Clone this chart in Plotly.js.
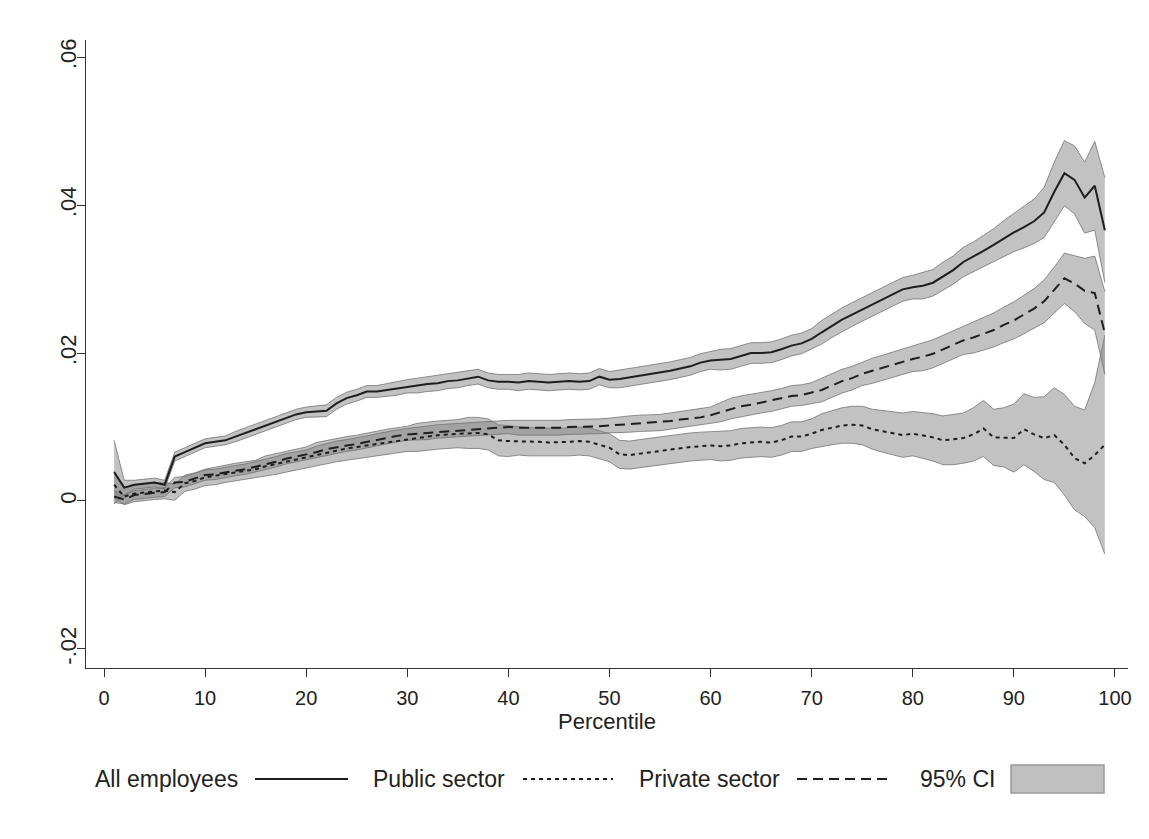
<!DOCTYPE html>
<html>
<head>
<meta charset="utf-8">
<script src="https://cdn.plot.ly/plotly-3.0.1.min.js"></script>
<style>html,body{margin:0;padding:0;background:#fff;}#chart{width:1149px;height:839px;}</style>
</head>
<body>
<div id="chart"></div>
<script>
// Percentile positions
const percentiles = [1,2,3,4,5,6,7,8,9,10,11,12,13,14,15,16,17,18,19,20,21,22,23,24,25,26,27,28,29,30,31,32,33,34,35,36,37,38,39,40,41,42,43,44,45,46,47,48,49,50,51,52,53,54,55,56,57,58,59,60,61,62,63,64,65,66,67,68,69,70,71,72,73,74,75,76,77,78,79,80,81,82,83,84,85,86,87,88,89,90,91,92,93,94,95,96,97,98,99];

// All employees (solid) point estimates
const allEmployees = [0.0039,0.0018,0.0022,0.0024,0.0025,0.0022,0.0060,0.0066,0.0072,0.0078,
0.0080,0.0082,0.0087,0.0092,0.0096,0.0102,0.0106,0.0112,0.0117,0.0120,
0.0121,0.0122,0.0132,0.0139,0.0143,0.0148,0.0148,0.0150,0.0152,0.0155,
0.0156,0.0158,0.0159,0.0162,0.0163,0.0166,0.0168,0.0163,0.0161,0.0161,
0.0160,0.0162,0.0161,0.0160,0.0161,0.0162,0.0161,0.0162,0.0168,0.0164,
0.0165,0.0167,0.0169,0.0171,0.0173,0.0176,0.0179,0.0182,0.0187,0.0190,
0.0191,0.0192,0.0196,0.0200,0.0200,0.0201,0.0205,0.0210,0.0213,0.0219,
0.0228,0.0237,0.0245,0.0252,0.0259,0.0266,0.0273,0.0280,0.0286,0.0289,
0.0291,0.0295,0.0304,0.0312,0.0323,0.0330,0.0338,0.0346,0.0355,0.0363,
0.0370,0.0378,0.0390,0.0418,0.0443,0.0434,0.0410,0.0426,0.0366];
// 95% CI half-widths, all employees
const allHalfWidth = [0.0043,0.0010,0.0006,0.0006,0.0006,0.0006,0.0006,0.0006,0.0006,0.0006,
0.0006,0.0006,0.0007,0.0007,0.0007,0.0007,0.0007,0.0007,0.0007,0.0007,
0.0008,0.0008,0.0008,0.0008,0.0008,0.0008,0.0008,0.0009,0.0009,0.0009,
0.0010,0.0010,0.0010,0.0010,0.0010,0.0010,0.0010,0.0010,0.0010,0.0010,
0.0011,0.0011,0.0011,0.0011,0.0011,0.0011,0.0011,0.0011,0.0011,0.0011,
0.0012,0.0012,0.0012,0.0012,0.0012,0.0012,0.0012,0.0012,0.0012,0.0012,
0.0014,0.0014,0.0014,0.0014,0.0014,0.0014,0.0014,0.0014,0.0014,0.0014,
0.0016,0.0016,0.0016,0.0016,0.0016,0.0016,0.0016,0.0016,0.0016,0.0016,
0.0018,0.0018,0.0019,0.0019,0.0020,0.0020,0.0021,0.0022,0.0024,0.0026,
0.0028,0.0030,0.0034,0.0040,0.0044,0.0046,0.0048,0.0060,0.0071];

// Public sector (dotted) point estimates
const publicSector = [0.0022,0.0006,0.0010,0.0012,0.0013,0.0014,0.0012,0.0024,0.0027,0.0032,
0.0034,0.0037,0.0039,0.0041,0.0043,0.0047,0.0050,0.0053,0.0056,0.0059,
0.0063,0.0066,0.0069,0.0071,0.0073,0.0075,0.0078,0.0080,0.0082,0.0084,
0.0086,0.0088,0.0089,0.0090,0.0091,0.0092,0.0092,0.0090,0.0082,0.0081,
0.0081,0.0080,0.0080,0.0079,0.0079,0.0080,0.0081,0.0080,0.0076,0.0072,
0.0063,0.0062,0.0064,0.0066,0.0068,0.0070,0.0072,0.0073,0.0074,0.0075,
0.0074,0.0075,0.0078,0.0079,0.0080,0.0079,0.0082,0.0087,0.0087,0.0091,
0.0096,0.0099,0.0102,0.0103,0.0102,0.0097,0.0094,0.0091,0.0089,0.0091,
0.0089,0.0086,0.0082,0.0083,0.0085,0.0090,0.0098,0.0086,0.0086,0.0085,
0.0097,0.0090,0.0085,0.0089,0.0076,0.0058,0.0051,0.0062,0.0076];
const publicHalfWidth = [0.0018,0.0011,0.0011,0.0011,0.0011,0.0011,0.0011,0.0011,0.0011,0.0011,
0.0012,0.0012,0.0012,0.0012,0.0012,0.0014,0.0014,0.0014,0.0014,0.0014,
0.0016,0.0016,0.0016,0.0016,0.0016,0.0017,0.0017,0.0017,0.0017,0.0017,
0.0019,0.0019,0.0019,0.0019,0.0019,0.0021,0.0021,0.0021,0.0021,0.0021,
0.0019,0.0019,0.0019,0.0019,0.0019,0.0019,0.0019,0.0019,0.0019,0.0019,
0.0019,0.0019,0.0019,0.0019,0.0019,0.0019,0.0019,0.0019,0.0019,0.0019,
0.0020,0.0020,0.0020,0.0020,0.0020,0.0020,0.0020,0.0020,0.0020,0.0020,
0.0022,0.0023,0.0024,0.0025,0.0026,0.0027,0.0028,0.0029,0.0030,0.0030,
0.0031,0.0032,0.0033,0.0034,0.0034,0.0036,0.0038,0.0038,0.0040,0.0046,
0.0048,0.0050,0.0056,0.0064,0.0068,0.0070,0.0072,0.0098,0.0148];

// Private sector (dashed) point estimates
const privateSector = [0.0006,0.0002,0.0008,0.0010,0.0011,0.0012,0.0025,0.0026,0.0030,0.0035,
0.0036,0.0039,0.0041,0.0043,0.0046,0.0050,0.0053,0.0057,0.0060,0.0062,
0.0066,0.0070,0.0073,0.0075,0.0077,0.0080,0.0083,0.0086,0.0088,0.0090,
0.0091,0.0092,0.0094,0.0095,0.0096,0.0097,0.0098,0.0099,0.0100,0.0100,
0.0099,0.0099,0.0098,0.0098,0.0099,0.0100,0.0100,0.0100,0.0101,0.0102,
0.0103,0.0104,0.0105,0.0105,0.0106,0.0108,0.0110,0.0111,0.0113,0.0116,
0.0120,0.0125,0.0128,0.0130,0.0133,0.0135,0.0138,0.0142,0.0143,0.0146,
0.0150,0.0156,0.0162,0.0166,0.0172,0.0176,0.0180,0.0184,0.0189,0.0192,
0.0195,0.0199,0.0205,0.0211,0.0217,0.0221,0.0226,0.0231,0.0238,0.0244,
0.0252,0.0260,0.0270,0.0285,0.0301,0.0294,0.0284,0.0281,0.0227];
const privateHalfWidth = [0.0008,0.0006,0.0006,0.0006,0.0006,0.0006,0.0007,0.0007,0.0007,0.0007,
0.0007,0.0007,0.0007,0.0007,0.0007,0.0007,0.0007,0.0007,0.0007,0.0007,
0.0008,0.0008,0.0008,0.0008,0.0008,0.0008,0.0008,0.0008,0.0008,0.0008,
0.0009,0.0009,0.0009,0.0009,0.0009,0.0009,0.0009,0.0009,0.0009,0.0009,
0.0010,0.0010,0.0010,0.0010,0.0010,0.0010,0.0010,0.0010,0.0010,0.0010,
0.0011,0.0011,0.0011,0.0011,0.0011,0.0011,0.0011,0.0011,0.0011,0.0011,
0.0013,0.0014,0.0014,0.0014,0.0014,0.0014,0.0014,0.0014,0.0014,0.0014,
0.0016,0.0016,0.0016,0.0016,0.0016,0.0017,0.0017,0.0017,0.0017,0.0017,
0.0019,0.0019,0.0019,0.0019,0.0019,0.0021,0.0022,0.0023,0.0024,0.0025,
0.0026,0.0027,0.0029,0.0031,0.0034,0.0038,0.0044,0.0050,0.0056];

// Axis ticks
const xTickValues = [0,10,20,30,40,50,60,70,80,90,100];
const yTickValues = [-0.02,0,0.02,0.04,0.06];
const yTickLabels = ['-.02','0','.02','.04','.06'];

// Legend labels
const legendLabels = ['All employees','Public sector','Private sector','95% CI'];

const FONT = 'Liberation Sans, Arial, sans-serif';
const BAND_FILL = 'rgba(128,128,128,0.48)';
const BAND_EDGE = 'rgba(110,110,110,0.75)';
const LINE_COL = '#1e1e1e';

function bandTraces(mean, hw) {
  const lo = mean.map((v, i) => v - hw[i]);
  const hi = mean.map((v, i) => v + hw[i]);
  return [
    {x: percentiles, y: lo, type: 'scatter', mode: 'lines', line: {color: BAND_EDGE, width: 1}, hoverinfo: 'skip', showlegend: false},
    {x: percentiles, y: hi, type: 'scatter', mode: 'lines', fill: 'tonexty', fillcolor: BAND_FILL, line: {color: BAND_EDGE, width: 1}, hoverinfo: 'skip', showlegend: false}
  ];
}

const traces = [].concat(
  bandTraces(publicSector, publicHalfWidth),
  bandTraces(privateSector, privateHalfWidth),
  bandTraces(allEmployees, allHalfWidth),
  [
    {x: percentiles, y: publicSector, type: 'scatter', mode: 'lines', name: legendLabels[1], line: {color: LINE_COL, width: 2, dash: '4px,4px'}, showlegend: false},
    {x: percentiles, y: privateSector, type: 'scatter', mode: 'lines', name: legendLabels[2], line: {color: LINE_COL, width: 2, dash: '10px,6px'}, showlegend: false},
    {x: percentiles, y: allEmployees, type: 'scatter', mode: 'lines', name: legendLabels[0], line: {color: LINE_COL, width: 2}, showlegend: false}
  ]
);

// plot area in pixels
const L = 86, R = 1128, T = 40, B = 668;
const W = R - L, H = B - T;
const px = x => (x - L) / W;
const py = y => (B - y) / H;
const legendY = 779;

const annotations = [
  {text: legendLabels[0], x: px(93), xanchor: 'left'},
  {text: legendLabels[1], x: px(371), xanchor: 'left'},
  {text: legendLabels[2], x: px(637), xanchor: 'left'},
  {text: legendLabels[3], x: px(918), xanchor: 'left'}
].map(a => Object.assign({xref: 'paper', yref: 'paper', y: py(legendY), yanchor: 'middle', showarrow: false, font: {family: FONT, size: 23, color: '#222'}}, a));

const shapes = [
  {type: 'line', xref: 'paper', yref: 'paper', x0: px(255), x1: px(348), y0: py(legendY), y1: py(legendY), line: {color: LINE_COL, width: 2}},
  {type: 'line', xref: 'paper', yref: 'paper', x0: px(523), x1: px(613), y0: py(legendY), y1: py(legendY), line: {color: LINE_COL, width: 2, dash: '4px,4px'}},
  {type: 'line', xref: 'paper', yref: 'paper', x0: px(797), x1: px(887), y0: py(legendY), y1: py(legendY), line: {color: LINE_COL, width: 2, dash: '10px,6px'}},
  {type: 'rect', xref: 'paper', yref: 'paper', x0: px(1011), x1: px(1104), y0: py(765), y1: py(793), fillcolor: '#c0c0c0', line: {color: '#999', width: 1.5}}
];

const layout = {
  width: 1149, height: 839,
  margin: {l: L, r: 1149 - R, t: T, b: 839 - B, pad: 0},
  paper_bgcolor: '#fff', plot_bgcolor: '#fff',
  font: {family: FONT, size: 20, color: '#222'},
  showlegend: false,
  xaxis: {
    range: [-1.78, 101.29], tickvals: xTickValues, ticks: 'outside', ticklen: 8, tickwidth: 1, tickcolor: '#333',
    showline: true, linecolor: '#333', linewidth: 1, showgrid: false, zeroline: false,
    ticklabelstandoff: 4,
    tickfont: {family: FONT, size: 20, color: '#222'},
    title: {text: 'Percentile', font: {family: FONT, size: 22, color: '#222'}, standoff: 4}
  },
  yaxis: {
    range: [-0.02257, 0.0623], tickvals: yTickValues, ticktext: yTickLabels, tickangle: -90,
    ticks: 'outside', ticklen: 8, tickwidth: 1, tickcolor: '#333',
    showline: true, linecolor: '#333', linewidth: 1, showgrid: false, zeroline: false,
    ticklabelstandoff: -8,
    tickfont: {family: FONT, size: 22, color: '#222'}
  },
  annotations: annotations,
  shapes: shapes
};

Plotly.newPlot('chart', traces, layout, {displayModeBar: false, staticPlot: true});
</script>
</body>
</html>
